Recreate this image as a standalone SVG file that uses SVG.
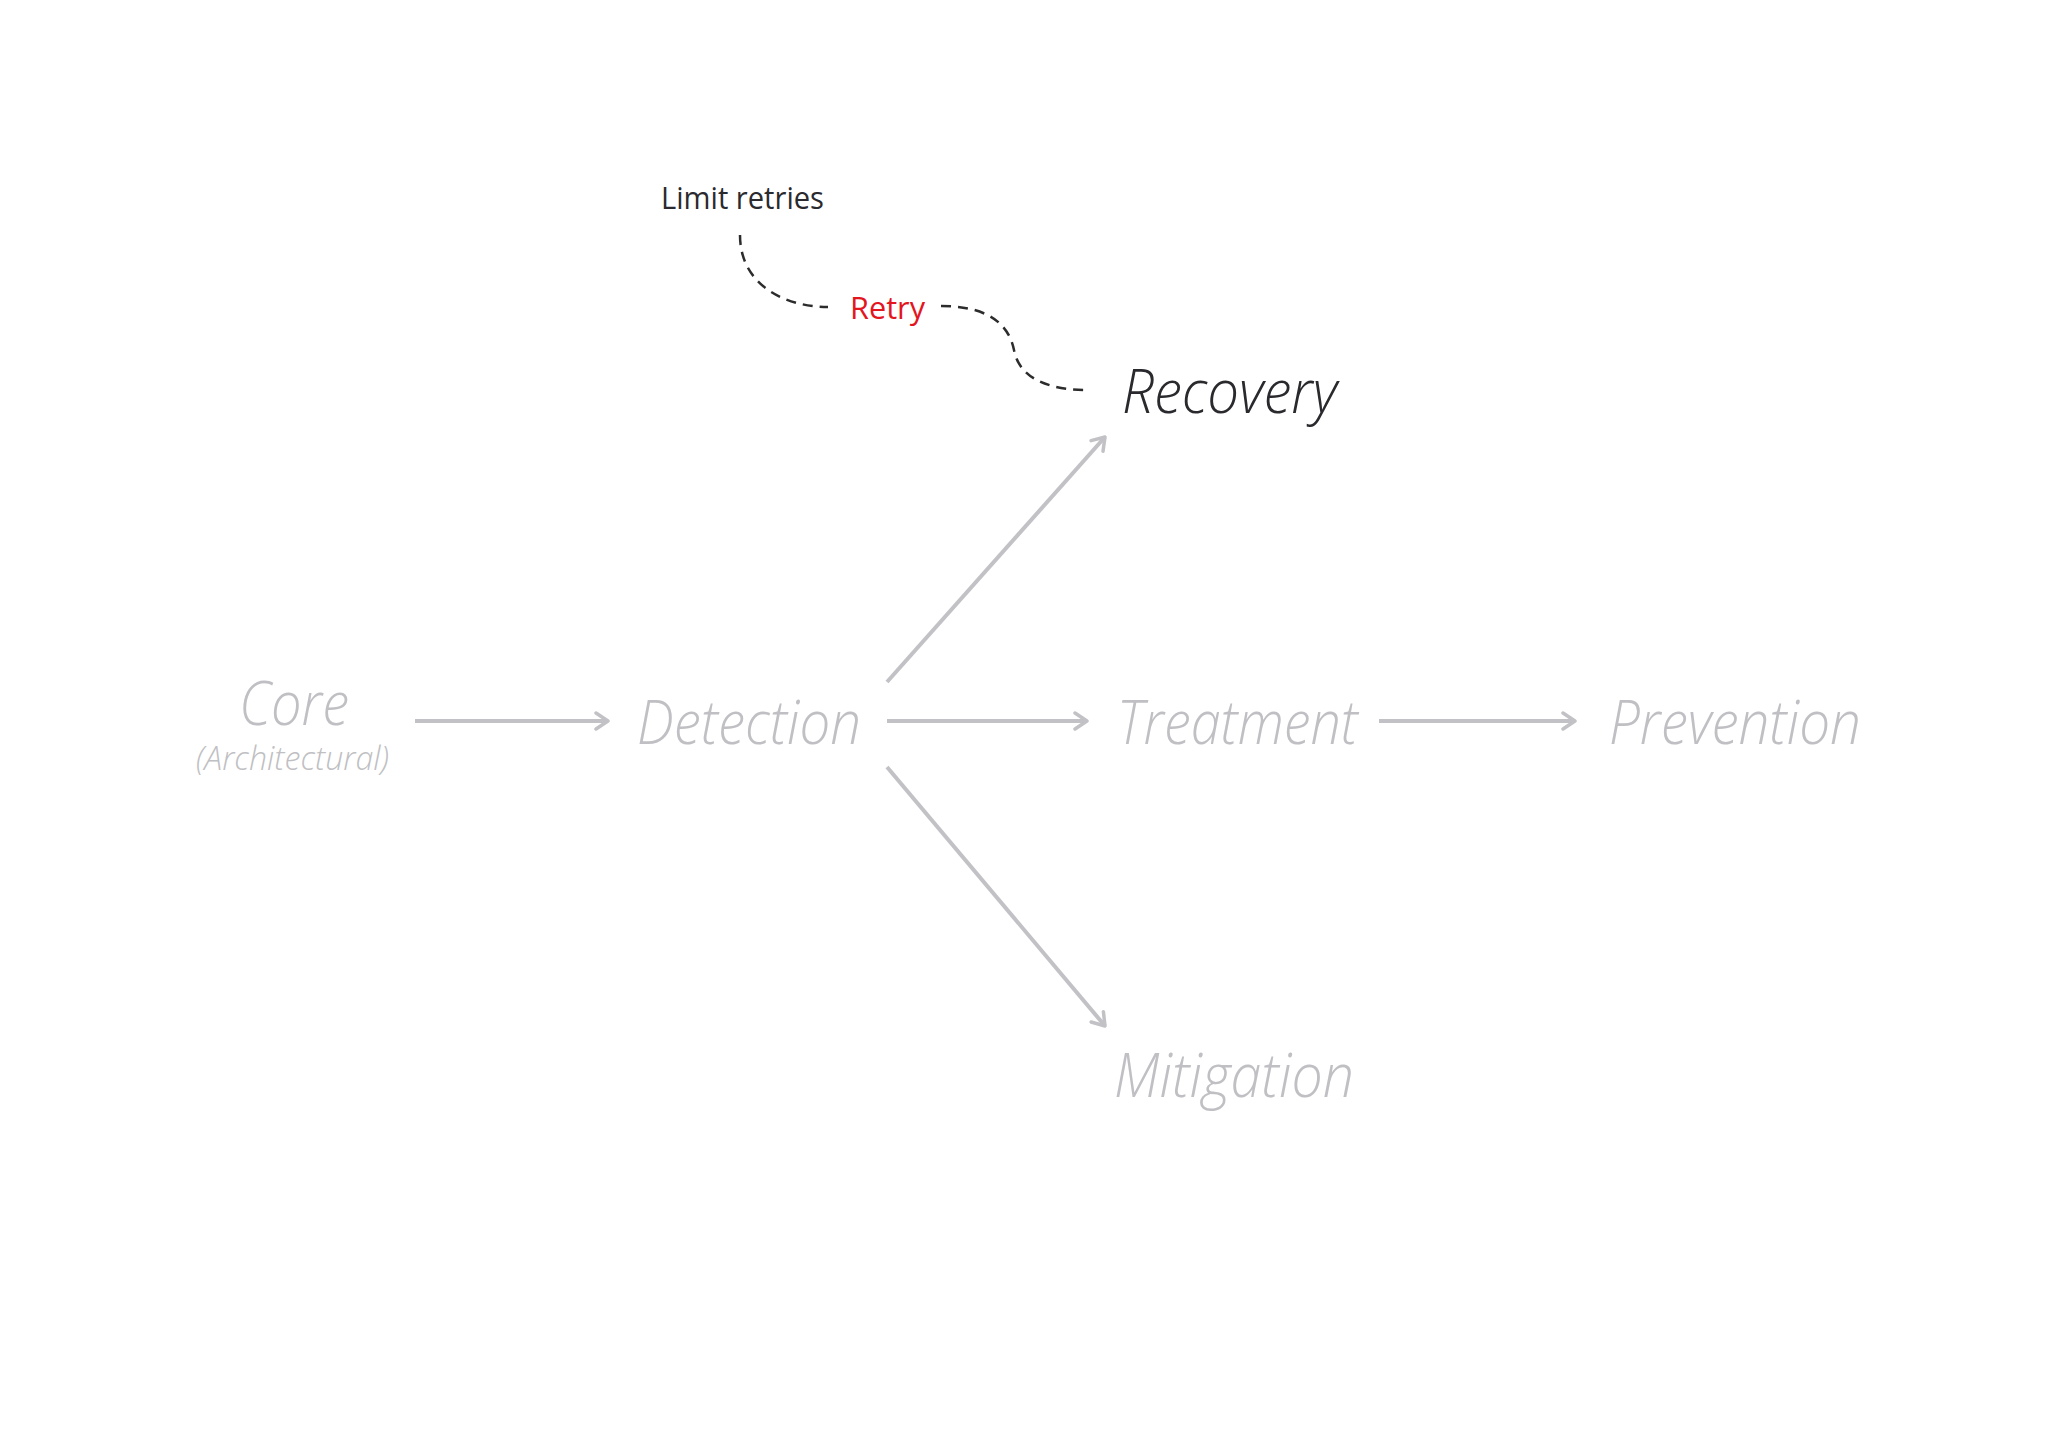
<svg xmlns="http://www.w3.org/2000/svg" width="2048" height="1449" viewBox="0 0 2048 1449">
<style>
.big{font-family:"Open Sans","Noto Sans",sans-serif;font-weight:300;font-style:italic;font-size:60px}
.grey{fill:#c0bfc3}
.dark{fill:#2a2a2e}
.note{font-family:"Open Sans","Noto Sans",sans-serif;font-weight:400;font-size:31px}
.conn{stroke:#c2c1c5;stroke-width:4;fill:none;marker-end:url(#chev)}
.dash{stroke:#2c2c2c;stroke-width:2.5;fill:none;stroke-dasharray:10 7}
</style>
<defs>
<marker id="chev" viewBox="0 0 16 20" refX="14" refY="10" markerWidth="16" markerHeight="20" markerUnits="userSpaceOnUse" orient="auto">
<path d="M2,2 L14,10 L2,18" fill="none" stroke="#c2c1c5" stroke-width="3.5" stroke-linecap="round" stroke-linejoin="round"/>
</marker>
</defs>
<rect width="2048" height="1449" fill="#ffffff"/>
<g id="connectors">
<line class="conn" x1="415" y1="721" x2="608" y2="721"/>
<line class="conn" x1="887" y1="721" x2="1087" y2="721"/>
<line class="conn" x1="1379" y1="721" x2="1575" y2="721"/>
<line class="conn" x1="887" y1="682" x2="1105" y2="437"/>
<line class="conn" x1="887" y1="767" x2="1105" y2="1026"/>
<path class="dash" d="M740,235 C740,285 785,307 828,307"/>
<path class="dash" d="M941,306 C995,306 1010,330 1014,350 C1020,382 1055,390 1088,390"/>
</g>
<g id="core">
<text class="big grey" x="239" y="725" textLength="110" lengthAdjust="spacingAndGlyphs">Core</text>
<text class="grey" x="196" y="770" style="font-family:'Open Sans','Noto Sans',sans-serif;font-weight:300;font-style:italic;font-size:33px" textLength="193" lengthAdjust="spacingAndGlyphs">(Architectural)</text>
</g>
<g id="detection">
<text class="big grey" x="637" y="744" textLength="224" lengthAdjust="spacingAndGlyphs">Detection</text>
</g>
<g id="treatment">
<text class="big grey" x="1117" y="744" textLength="241" lengthAdjust="spacingAndGlyphs">Treatment</text>
</g>
<g id="prevention">
<text class="big grey" x="1609" y="744" textLength="252" lengthAdjust="spacingAndGlyphs">Prevention</text>
</g>
<g id="mitigation">
<text class="big grey" x="1114" y="1097" textLength="240" lengthAdjust="spacingAndGlyphs">Mitigation</text>
</g>
<g id="recovery">
<text class="big dark" x="1122" y="413" textLength="215" lengthAdjust="spacingAndGlyphs">Recovery</text>
</g>
<g id="limit-retries">
<text class="note dark" x="661" y="209" textLength="163" lengthAdjust="spacingAndGlyphs">Limit retries</text>
</g>
<g id="retry">
<text class="note" x="850" y="319" fill="#e3161e" textLength="75" lengthAdjust="spacingAndGlyphs">Retry</text>
</g>
</svg>
